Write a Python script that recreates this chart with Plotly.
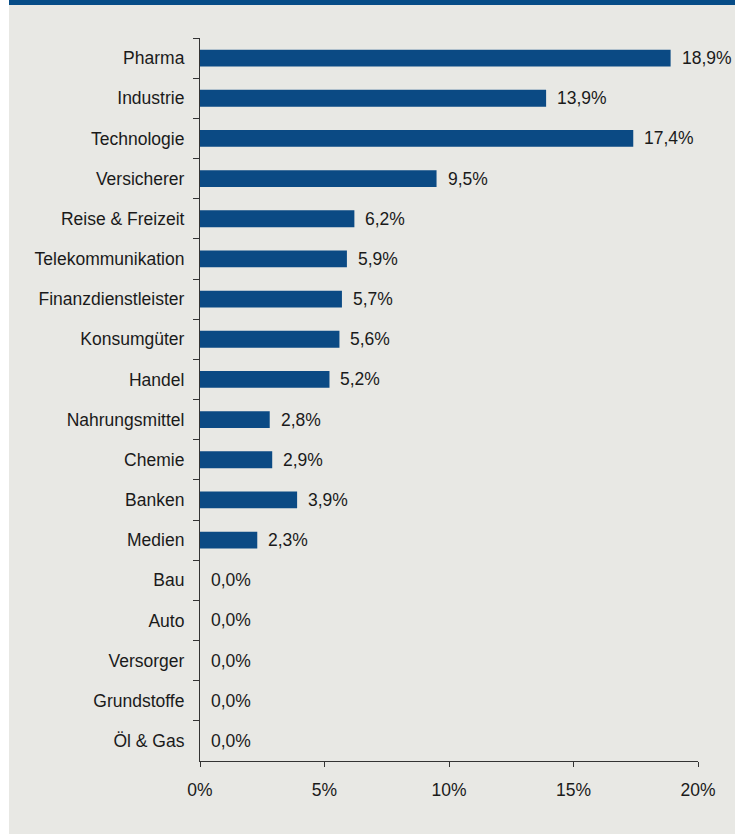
import plotly.graph_objects as go

categories = ["Pharma", "Industrie", "Technologie", "Versicherer", "Reise & Freizeit",
              "Telekommunikation", "Finanzdienstleister", "Konsumgüter", "Handel",
              "Nahrungsmittel", "Chemie", "Banken", "Medien", "Bau", "Auto",
              "Versorger", "Grundstoffe", "Öl & Gas"]
values = [18.9, 13.9, 17.4, 9.5, 6.2, 5.9, 5.7, 5.6, 5.2, 2.8, 2.9, 3.9, 2.3,
          0.0, 0.0, 0.0, 0.0, 0.0]
x_ticks = [0, 5, 10, 15, 20]
x_tick_labels = ["0%", "5%", "10%", "15%", "20%"]

W, H = 742, 834
L, R, T, B = 200, 44, 38, 73
pw, ph = W - L - R, H - T - B

def px_x(p):
    return (p - L) / pw

def px_y(p):
    return (H - B - p) / ph

FONT = "Liberation Sans, Arial, sans-serif"
FS = 17.5
BG = "#E8E8E4"
BLUE = "#0B4A84"

fig = go.Figure()
fig.add_trace(go.Bar(
    x=values, y=categories, orientation="h",
    marker=dict(color=BLUE, line=dict(width=0)),
    width=0.42, hoverinfo="skip",
))

annotations = []
for c, v in zip(categories, values):
    annotations.append(dict(
        x=v, y=c, xref="x", yref="y",
        text=f"{v:.1f}".replace(".", ",") + "%",
        showarrow=False, xanchor="left", yanchor="middle", xshift=9,
        font=dict(family=FONT, size=FS, color="#1a1a1a"),
    ))

shapes = [
    dict(type="rect", xref="paper", yref="paper", layer="below",
         x0=px_x(9), x1=px_x(735), y0=px_y(834), y1=px_y(5),
         fillcolor=BG, line=dict(width=0)),
    dict(type="rect", xref="paper", yref="paper", layer="below",
         x0=px_x(9), x1=px_x(735), y0=px_y(5), y1=px_y(-2),
         fillcolor="#064C87", line=dict(width=0)),
]

fig.update_layout(
    width=W, height=H,
    margin=dict(l=L, r=R, t=T, b=B, pad=0),
    paper_bgcolor="white", plot_bgcolor="rgba(0,0,0,0)",
    showlegend=False, bargap=0.58,
    font=dict(family=FONT, size=FS, color="#1a1a1a"),
    annotations=annotations, shapes=shapes,
    xaxis=dict(
        range=[0, 20], tickvals=x_ticks, ticktext=x_tick_labels,
        showgrid=False, zeroline=False,
        showline=True, linecolor="#333333", linewidth=1.2,
        ticks="outside", ticklen=5, tickcolor="#333333", tickwidth=1.2,
        ticklabelstandoff=8,
        tickfont=dict(family=FONT, size=FS, color="#1a1a1a"),
        fixedrange=True,
    ),
    yaxis=dict(
        categoryorder="array", categoryarray=categories, autorange="reversed",
        showgrid=False, zeroline=False,
        showline=True, linecolor="#333333", linewidth=1.2,
        ticks="outside", tickson="boundaries", ticklen=6,
        tickcolor="#333333", tickwidth=1.2,
        ticklabelstandoff=11,
        tickfont=dict(family=FONT, size=FS, color="#1a1a1a"),
        fixedrange=True,
    ),
)

fig.write_html("out.html", config={"displayModeBar": False},
               post_script="document.body.style.margin='0';document.body.style.padding='0';")
